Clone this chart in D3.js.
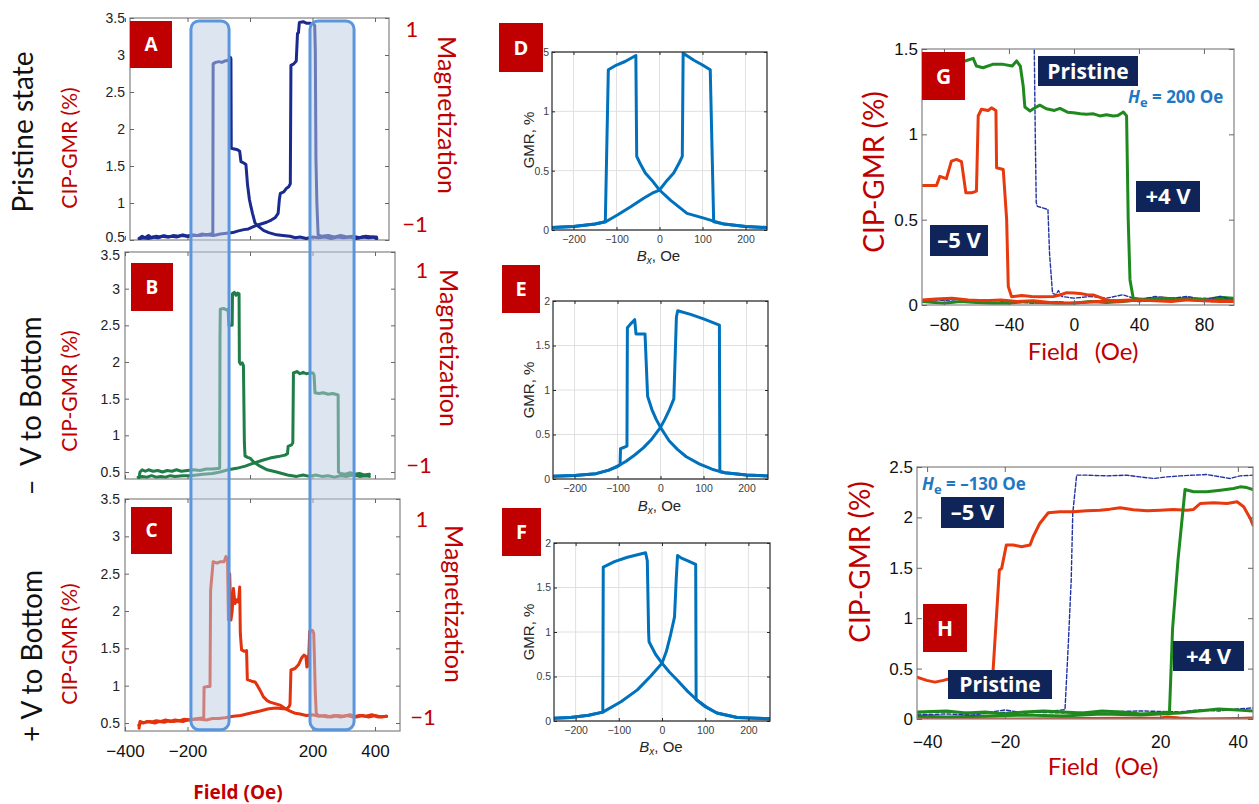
<!DOCTYPE html>
<html><head><meta charset="utf-8">
<script src="https://cdn.jsdelivr.net/npm/d3@7/dist/d3.min.js"></script>
<style>html,body{margin:0;padding:0;background:#fff;} svg{display:block;}</style>
</head><body>
<svg id="chart" width="1259" height="804" xmlns="http://www.w3.org/2000/svg"></svg>
<script>
// ================= DATA =================
// Panels A-C : field (Oe) vs CIP-GMR (%)
const abcYTicks = [0.5, 1, 1.5, 2, 2.5, 3, 3.5];
const abcXTicks = [-400, -200, 200, 400];
const abcXTickMarks = [-400, -200, 0, 200, 400];
const highlightWindows = [[-189, -67], [192, 333]];

const aSweep1 = [[-355,0.52],[-345,0.55],[-335,0.53],[-325,0.56],[-315,0.53],[-300,0.55],[-290,0.54],[-275,0.56],[-260,0.54],[-245,0.56],[-230,0.55],[-215,0.57],[-200,0.55],[-185,0.57],[-170,0.56],[-155,0.58],[-140,0.57],[-125,0.58],[-119,0.58],[-118,2.88],[-110,2.9],[-100,2.91],[-90,2.9],[-80,2.92],[-70,2.93],[-65,2.92],[-63,2.97],[-61,2.95],[-60,1.74],[-50,1.73],[-40,1.72],[-33,1.7],[-29,1.56],[-20,1.54],[-13,1.52],[-8,1.25],[-2,1.05],[3,0.95],[8,0.86],[16,0.73],[28,0.68],[43,0.63],[60,0.6],[85,0.57],[105,0.56],[128,0.55],[145,0.53],[160,0.54],[180,0.52],[200,0.54],[220,0.53],[240,0.54],[260,0.52],[280,0.54],[300,0.53],[320,0.54],[340,0.52],[360,0.54],[380,0.53],[395,0.54],[406,0.52]];
const aSweep2 = [[-352,0.52],[-340,0.53],[-325,0.52],[-310,0.54],[-295,0.53],[-280,0.55],[-265,0.54],[-250,0.55],[-235,0.54],[-220,0.56],[-200,0.55],[-180,0.56],[-160,0.56],[-140,0.57],[-117,0.56],[-95,0.58],[-75,0.59],[-55,0.6],[-40,0.62],[-20,0.64],[-5,0.65],[11,0.68],[30,0.71],[53,0.74],[68,0.77],[80,0.8],[90,0.86],[94,1.05],[97,1.13],[108,1.15],[117,1.2],[124,1.22],[129,1.26],[131,2.86],[140,2.88],[148,2.92],[152,3.29],[155,3.3],[158,3.44],[170,3.45],[180,3.43],[192,3.43],[203,3.42],[207,3.4],[209,3.05],[211,1.6],[214,1.0],[218,0.57],[230,0.55],[250,0.56],[270,0.54],[290,0.56],[310,0.54],[330,0.55],[350,0.53],[370,0.55],[390,0.54],[405,0.54]];

const bSweep1 = [[-355,0.42],[-352,0.5],[-345,0.53],[-335,0.51],[-325,0.53],[-310,0.51],[-295,0.52],[-280,0.5],[-265,0.52],[-250,0.51],[-235,0.53],[-220,0.51],[-200,0.52],[-180,0.53],[-160,0.52],[-140,0.54],[-120,0.54],[-97,0.55],[-96,2.35],[-95,2.72],[-85,2.73],[-75,2.71],[-70,2.72],[-68,2.5],[-57,2.5],[-56,2.93],[-50,2.95],[-45,2.91],[-40,2.94],[-35,2.93],[-34,2.0],[-30,1.97],[-25,1.99],[-21,1.95],[-18,0.9],[-16,0.72],[-8,0.7],[0,0.69],[11,0.64],[32,0.58],[55,0.53],[85,0.5],[120,0.46],[149,0.44],[170,0.46],[190,0.44],[210,0.46],[230,0.44],[250,0.45],[270,0.43],[290,0.45],[310,0.44],[330,0.46],[350,0.44],[370,0.45],[382,0.44]];
const bSweep2 = [[-358,0.43],[-345,0.44],[-330,0.43],[-315,0.45],[-300,0.43],[-285,0.44],[-270,0.43],[-255,0.45],[-240,0.44],[-215,0.45],[-192,0.45],[-170,0.46],[-150,0.47],[-120,0.48],[-96,0.5],[-70,0.53],[-43,0.55],[-15,0.58],[11,0.62],[40,0.66],[64,0.69],[90,0.71],[112,0.73],[120,0.75],[122,0.85],[133,0.87],[137,0.9],[139,1.85],[150,1.87],[160,1.84],[170,1.86],[180,1.84],[192,1.85],[202,1.85],[205,1.82],[208,1.58],[220,1.57],[235,1.58],[250,1.56],[265,1.57],[282,1.55],[283,0.5],[290,0.48],[305,0.47],[320,0.49],[335,0.47],[350,0.48],[365,0.46],[382,0.47]];

const cSweep1 = [[-355,0.43],[-352,0.52],[-340,0.5],[-330,0.52],[-315,0.51],[-300,0.53],[-285,0.52],[-270,0.54],[-255,0.52],[-240,0.54],[-225,0.53],[-210,0.55],[-195,0.54],[-180,0.55],[-165,0.56],[-148,0.57],[-147,0.98],[-135,0.99],[-128,0.99],[-126,2.28],[-118,2.66],[-105,2.64],[-95,2.66],[-83,2.66],[-77,2.73],[-72,2.7],[-69,1.88],[-65,2.5],[-61,1.88],[-57,2.0],[-53,2.3],[-48,2.1],[-42,2.15],[-37,2.12],[-33,2.32],[-31,1.7],[-27,1.48],[-18,1.46],[-11,1.47],[-8.5,1.08],[5,1.06],[16,1.05],[24,1.0],[32,0.94],[43,0.85],[55,0.8],[64,0.78],[80,0.76],[96,0.74],[110,0.7],[128,0.66],[145,0.63],[160,0.62],[180,0.6],[200,0.61],[220,0.59],[240,0.6],[260,0.58],[280,0.6],[300,0.59],[320,0.61],[340,0.58],[360,0.6],[380,0.58],[400,0.6],[420,0.58],[437,0.59]];
const cSweep2 = [[-356,0.47],[-350,0.5],[-335,0.51],[-320,0.52],[-305,0.5],[-290,0.52],[-275,0.51],[-260,0.53],[-245,0.52],[-230,0.53],[-215,0.52],[-200,0.54],[-180,0.55],[-160,0.55],[-140,0.54],[-120,0.56],[-100,0.56],[-80,0.57],[-53,0.59],[-30,0.6],[-10,0.62],[10,0.64],[32,0.66],[60,0.69],[85,0.7],[105,0.69],[117,0.69],[125,0.72],[128,0.75],[131,1.21],[144,1.23],[155,1.28],[165,1.37],[173,1.41],[179,1.39],[182,1.25],[186,1.27],[188,1.4],[191,1.73],[200,1.74],[204,1.7],[206,1.4],[209,0.9],[212,0.63],[219,0.6],[235,0.59],[250,0.58],[270,0.6],[290,0.58],[310,0.6],[330,0.58],[350,0.6],[370,0.59],[390,0.61],[410,0.58],[437,0.59]];

// Panels D-F : simulated GMR (%) vs Bx (Oe)
const defXTicks = [-200, -100, 0, 100, 200];
const dYTicks = [0, 0.5, 1, 1.5];
const efYTicks = [0, 0.5, 1, 1.5, 2];
const dSweepUp = [[-250,0.02],[-200,0.03],[-150,0.05],[-125,0.07],[-98,0.126],[-67,0.196],[-36,0.27],[-17,0.31],[0,0.337],[18,0.42],[33,0.48],[45,0.56],[49,0.59],[53,0.62],[55,1.49],[80,1.43],[100,1.39],[118,1.35],[126,0.07],[150,0.05],[200,0.03],[250,0.02]];
const dSweepDown = [[250,0.02],[200,0.03],[150,0.05],[126,0.075],[103,0.1],[64,0.14],[26,0.25],[0,0.337],[-18,0.42],[-33,0.48],[-45,0.56],[-49,0.59],[-53,0.62],[-55,1.47],[-80,1.42],[-100,1.39],[-119,1.35],[-126,0.07],[-150,0.05],[-200,0.03],[-250,0.02]];
const eSweepUp = [[-250,0.03],[-200,0.04],[-150,0.06],[-120,0.1],[-100,0.14],[-94,0.16],[-93,0.34],[-78,0.37],[-77,1.7],[-70,1.74],[-60,1.79],[-57,1.63],[-36,1.63],[-30,0.93],[-20,0.78],[-10,0.67],[0,0.58],[20,0.43],[40,0.33],[60,0.25],[90,0.17],[120,0.11],[137,0.085],[150,0.07],[200,0.045],[250,0.035]];
const eSweepDown = [[250,0.035],[200,0.045],[150,0.07],[138,0.085],[137,1.73],[100,1.8],[70,1.85],[40,1.89],[37,1.82],[31,0.9],[20,0.77],[10,0.67],[0,0.58],[-20,0.45],[-40,0.35],[-60,0.27],[-80,0.2],[-94,0.16],[-120,0.1],[-150,0.06],[-200,0.04],[-250,0.03]];
const fSweepUp = [[-250,0.03],[-212,0.04],[-170,0.065],[-137,0.1],[-136,1.73],[-110,1.79],[-80,1.84],[-38,1.89],[-34,1.8],[-31,1.0],[-30,0.89],[-15,0.75],[0,0.65],[17,0.55],[35,0.46],[60,0.33],[81,0.236],[105,0.15],[127,0.09],[174,0.04],[250,0.025]];
const fSweepDown = [[250,0.025],[174,0.04],[127,0.09],[100,0.16],[79,0.24],[78,1.76],[60,1.8],[45,1.83],[36,1.86],[33,1.6],[29,1.17],[19,0.95],[10,0.78],[0,0.65],[-27,0.5],[-57,0.35],[-95,0.217],[-137,0.1],[-170,0.065],[-212,0.04],[-250,0.03]];

// Panel G : He = 200 Oe
const gXTicks = [-80, -40, 0, 40, 80];
const gYTicks = [0, 0.5, 1, 1.5];
const gPlus4Upper = [[-93.5,1.43],[-67,1.43],[-62,1.445],[-60,1.4],[-56,1.39],[-50,1.41],[-43.5,1.41],[-38,1.4],[-35.3,1.43],[-33,1.4],[-31.2,1.28],[-30.2,1.16],[-27,1.137],[-25,1.15],[-21,1.171],[-17,1.15],[-12,1.14],[-8.6,1.152],[-4,1.13],[-0.4,1.127],[4,1.12],[7.8,1.118],[12,1.12],[16,1.108],[20,1.115],[24.2,1.108],[27,1.11],[30.4,1.131],[32.4,1.108],[33.4,0.5],[34.5,0.147],[36.5,0.039],[45,0.03],[55,0.04],[65,0.03],[75,0.035],[85,0.025],[98,0.03]];
const gPlus4Lower = [[-93.5,0.02],[-80,0.01],[-70,0.02],[-60,0.015],[-50,0.01],[-40,0.01],[-30,0.02],[-20,0.015],[-10,0.01],[0,0.01],[10,0.02],[20,0.015],[30,0.02],[40,0.03],[50,0.04],[60,0.03],[70,0.04],[80,0.03],[90,0.045],[98,0.04]];
const gMinus5Upper = [[-93.5,0.7],[-84.6,0.7],[-82.5,0.754],[-78.5,0.74],[-75.4,0.843],[-72.3,0.853],[-69.2,0.84],[-66.5,0.657],[-63,0.657],[-60,0.667],[-58.9,1.109],[-56.9,1.147],[-52.8,1.14],[-50.7,1.155],[-48,1.14],[-47.6,0.804],[-43.5,0.794],[-41.4,0.5],[-40.4,0.108],[-38.4,0.049],[-32.2,0.055],[-26,0.05],[-20.9,0.049],[-12.7,0.05],[-8,0.06],[-4.5,0.072],[0,0.07],[3.7,0.068],[8,0.06],[11.9,0.059],[16,0.045],[20,0.03],[26.3,0.02],[40,0.03],[50,0.025],[60,0.02],[70,0.03],[80,0.025],[90,0.02],[98,0.02]];
const gMinus5Lower = [[-93.5,0.03],[-85,0.035],[-75,0.04],[-65,0.03],[-55,0.025],[-45,0.03],[-35,0.02],[-25,0.025],[-15,0.015],[-5,0.01],[5,0.015],[15,0.02],[25,0.025],[35,0.03],[45,0.035],[55,0.04],[65,0.035],[75,0.03],[85,0.03],[98,0.02]];
const gPristineUpper = [[-25,1.6],[-24.4,1.5],[-23.8,1.0],[-23.2,0.6],[-22.5,0.578],[-19.5,0.57],[-16,0.56],[-15,0.3],[-13.2,0.07],[-11,0.06],[-9.5,0.085],[-7.5,0.05],[0,0.04],[10,0.05],[20,0.04],[30,0.06],[40,0.03],[50,0.05],[60,0.04],[70,0.05],[80,0.03],[90,0.05],[98,0.03]];
const gPristineLower = [[-93.5,0.02],[-85,0.03],[-70,0.02],[-55,0.03],[-40,0.02],[-25,0.01],[-10,0.02],[0,0.01],[20,0.03],[40,0.02],[60,0.03],[80,0.04],[98,0.03]];

// Panel H : He = -130 Oe
const hXTicks = [-40, -20, 20, 40];
const hYTicks = [0, 0.5, 1, 1.5, 2, 2.5];
const hMinus5Upper = [[-42.6,0.416],[-40.1,0.383],[-38,0.366],[-35.8,0.383],[-34.6,0.396],[-28,0.42],[-23.4,0.45],[-23,0.489],[-21.4,1.478],[-20.8,1.494],[-19.6,1.726],[-17.8,1.726],[-15.7,1.709],[-13.5,1.726],[-12.7,1.808],[-11,1.94],[-8.8,2.046],[-5.8,2.056],[-2.4,2.056],[1.1,2.066],[4.5,2.072],[7.1,2.082],[9.7,2.096],[13.1,2.075],[16.6,2.066],[20,2.072],[23.4,2.079],[26.9,2.072],[28.6,2.079],[30.3,2.138],[33.8,2.145],[37.2,2.138],[39.8,2.155],[41.5,2.105],[43.2,1.99],[43.9,1.923]];
const hMinus5Lower = [[-42.6,0.01],[-30,0.005],[-20,0.0],[0,0.005],[20,0.01],[22,0.02],[25,0.01],[30,0.0],[40,0.005],[43.9,0.01]];
const hPlus4Upper = [[-42.6,0.07],[-35,0.08],[-30,0.06],[-25,0.07],[-20,0.05],[-15,0.07],[-10,0.08],[-5,0.07],[0,0.06],[5,0.08],[10,0.07],[15,0.05],[20,0.06],[22.4,0.07],[23.2,0.9],[24.6,1.58],[26.4,2.277],[28.6,2.254],[32,2.254],[35.5,2.27],[38.9,2.287],[40.6,2.303],[42.3,2.296],[43.9,2.277]];
const hPlus4Lower = [[-42.6,0.03],[-35,0.02],[-25,0.03],[-15,0.04],[-5,0.03],[5,0.05],[15,0.04],[25,0.06],[30,0.08],[35,0.1],[40,0.09],[43.9,0.08]];
const hPristineUpper = [[-42.6,0.04],[-35,0.05],[-28,0.04],[-20,0.09],[-15,0.06],[-10,0.07],[-4.5,0.093],[-3.6,0.78],[-2.9,1.38],[-2.5,2.04],[-1.5,2.419],[1.1,2.419],[6.2,2.412],[11.4,2.419],[14.8,2.402],[18.3,2.386],[21.7,2.402],[25.1,2.412],[28.6,2.419],[32,2.425],[35.5,2.402],[38,2.386],[40.6,2.412],[43.9,2.419]];
const hPristineLower = [[-42.6,0.06],[-35,0.07],[-25,0.06],[-15,0.07],[-5,0.06],[5,0.07],[15,0.08],[25,0.07],[30,0.09],[35,0.08],[40,0.1],[43.9,0.11]];

// ================= DRAWING =================
const svg = d3.select('#chart');
const defs = svg.append('defs');
let clipN = 0;
function clip(x, y, w, h) {
  const id = 'clip' + (clipN++);
  defs.append('clipPath').attr('id', id).append('rect').attr('x', x).attr('y', y).attr('width', w).attr('height', h);
  return `url(#${id})`;
}
const FONT_AX = "'Liberation Sans', Arial, sans-serif";
const FONT_CAL = "Lato, 'Open Sans', sans-serif";
const FONT_BOLD = "'Open Sans', Lato, sans-serif";
const RED = '#C00000';

function styleAxis(g, size, color, tickColor) {
  g.select('.domain').remove();
  g.attr('font-size', size).attr('font-family', FONT_AX);
  g.selectAll('line').attr('stroke', tickColor);
  g.selectAll('text').attr('fill', color);
}
function drawLine(g, x, y, data, color, width, dash, cp) {
  g.append('path').datum(data)
    .attr('d', d3.line().x(d => x(d[0])).y(d => y(d[1])))
    .attr('fill', 'none').attr('stroke', color).attr('stroke-width', width)
    .attr('stroke-linejoin', 'round').attr('stroke-linecap', 'round')
    .attr('stroke-dasharray', dash || null).attr('clip-path', cp);
}
function labelBox(x0, y0, x1, y1, fill, txt, fs) {
  svg.append('rect').attr('x', x0).attr('y', y0).attr('width', x1 - x0).attr('height', y1 - y0).attr('fill', fill);
  svg.append('text').attr('x', (x0 + x1) / 2).attr('y', (y0 + y1) / 2).attr('dy', '0.36em')
    .attr('text-anchor', 'middle').attr('font-family', FONT_BOLD).attr('font-weight', 700)
    .attr('font-size', fs).attr('fill', '#fff').text(txt);
}
function rotText(x, y, angle, txt, size, color, family, weight) {
  return svg.append('text').attr('transform', `translate(${x},${y}) rotate(${angle})`)
    .attr('text-anchor', 'middle').attr('font-family', family).attr('font-size', size)
    .attr('font-weight', weight || 400).attr('fill', color).text(txt);
}

// ---------- Panels A, B, C ----------
const fieldX = d3.scaleLinear().domain([-400, 480]).range([125, 400]);
const abcLayout = [
  {x0: 130, x1: 389, yTop: 18, yBot: 240, y05: 240, y35: 18, series: [aSweep1, aSweep2], color: '#1B2A8E', labels: false, shift: {0.5: -3}},
  {x0: 125, x1: 395, yTop: 252, yBot: 479, y05: 472, y35: 252, series: [bSweep1, bSweep2], color: '#1F7D47', labels: false, shift: {3.5: 3}},
  {x0: 125, x1: 400, yTop: 499, yBot: 731, y05: 723, y35: 499, series: [cSweep1, cSweep2], color: '#E2330E', labels: true, shift: {}}
];
const abcY = [];
abcLayout.forEach(L => {
  const x = d3.scaleLinear().domain([fieldX.invert(L.x0), fieldX.invert(L.x1)]).range([L.x0, L.x1]);
  const y = d3.scaleLinear().domain([0.5, 3.5]).range([L.y05, L.y35]);
  abcY.push(y);
  const g = svg.append('g');
  g.append('rect').attr('x', L.x0).attr('y', L.yTop).attr('width', L.x1 - L.x0).attr('height', L.yBot - L.yTop)
    .attr('fill', 'none').attr('stroke', '#8c8c8c').attr('stroke-width', 1.3);
  const yl = g.append('g').attr('transform', `translate(${L.x0},0)`)
    .call(d3.axisLeft(y).tickValues(abcYTicks).tickSize(-4).tickPadding(5).tickFormat(d => String(d)));
  styleAxis(yl, 14, '#222', '#666');
  yl.selectAll('text').attr('transform', d => `translate(0,${L.shift[d] || 0})`);
  const yr = g.append('g').attr('transform', `translate(${L.x1},0)`)
    .call(d3.axisRight(y).tickValues(abcYTicks).tickSize(-4).tickFormat(''));
  styleAxis(yr, 14, '#222', '#666');
  const xt = g.append('g').attr('transform', `translate(0,${L.yTop})`)
    .call(d3.axisTop(x).tickValues(abcXTickMarks).tickSize(-4).tickFormat(''));
  styleAxis(xt, 14, '#222', '#666');
  const xb = g.append('g').attr('transform', `translate(0,${L.yBot})`)
    .call(d3.axisBottom(x).tickValues(L.labels ? abcXTicks : abcXTickMarks).tickSize(-4).tickPadding(14)
      .tickFormat(L.labels ? d3.format('') : ''));
  styleAxis(xb, 17, '#111', '#666');
  const cp = clip(L.x0, L.yTop, L.x1 - L.x0, L.yBot - L.yTop);
  L.series.forEach(s => drawLine(g, x, y, s, L.color, 3, null, cp));
});

// highlight windows spanning A-C
highlightWindows.forEach(w => {
  const yTop = abcY[0](3.46), yBot = abcY[2](0.41);
  svg.append('rect').attr('x', fieldX(w[0])).attr('y', yTop)
    .attr('width', fieldX(w[1]) - fieldX(w[0])).attr('height', yBot - yTop)
    .attr('rx', 8).attr('ry', 8)
    .attr('fill', '#BCCCE3').attr('fill-opacity', 0.5)
    .attr('stroke', '#5B96DC').attr('stroke-width', 3);
});

labelBox(130, 21, 172, 68, RED, 'A', 19);
labelBox(131, 263, 173, 311, RED, 'B', 19);
labelBox(131, 507, 172, 554, RED, 'C', 19);

// row & axis titles for A-C
rotText(33, 132, -90, 'Pristine state', 28, '#111', FONT_CAL);
rotText(41, 406, -90, '–\u00A0 V to Bottom', 28, '#111', FONT_CAL);
rotText(42, 656, -90, '+ V to Bottom', 28, '#111', FONT_CAL);
[[148], [391], [644]].forEach(c => rotText(77, c[0], -90, 'CIP-GMR (%)', 21, RED, FONT_CAL));
[[438, 115], [440, 348], [445, 604]].forEach(c => rotText(c[0], c[1], 90, 'Magnetization', 25, RED, FONT_CAL));
[[412, 37, '1'], [415, 232, '−1'], [422, 278, '1'], [419, 473, '−1'], [422, 527, '1'], [423, 725, '−1']].forEach(c => {
  svg.append('text').attr('x', c[0]).attr('y', c[1]).attr('text-anchor', 'middle')
    .attr('font-family', FONT_CAL).attr('font-size', 22).attr('fill', RED).text(c[2]);
});
svg.append('text').attr('x', 238).attr('y', 799).attr('text-anchor', 'middle')
  .attr('font-family', FONT_BOLD).attr('font-weight', 700).attr('font-size', 19).attr('fill', RED).text('Field (Oe)');

// ---------- Panels D, E, F ----------
const defLayout = [
  {x0: 552, x1: 767, yTop: 52, yBot: 230, ymax: 1.5, ticks: dYTicks, up: dSweepUp, down: dSweepDown, gy: 140, by: 261},
  {x0: 553, x1: 768, yTop: 301, yBot: 479, ymax: 2, ticks: efYTicks, up: eSweepUp, down: eSweepDown, gy: 390, by: 511},
  {x0: 554, x1: 770, yTop: 543, yBot: 721, ymax: 2, ticks: efYTicks, up: fSweepUp, down: fSweepDown, gy: 632, by: 752}
];
defLayout.forEach(L => {
  const x = d3.scaleLinear().domain([-250, 250]).range([L.x0, L.x1]);
  const y = d3.scaleLinear().domain([0, L.ymax]).range([L.yBot, L.yTop]);
  const g = svg.append('g');
  g.selectAll('.gx').data(defXTicks).join('line').attr('x1', d => x(d)).attr('x2', d => x(d))
    .attr('y1', L.yTop).attr('y2', L.yBot).attr('stroke', '#dcdcdc').attr('stroke-width', 0.9);
  g.selectAll('.gy').data(L.ticks).join('line').attr('y1', d => y(d)).attr('y2', d => y(d))
    .attr('x1', L.x0).attr('x2', L.x1).attr('stroke', '#dcdcdc').attr('stroke-width', 0.9);
  const cp = clip(L.x0, L.yTop, L.x1 - L.x0, L.yBot - L.yTop);
  drawLine(g, x, y, L.up, '#0072BD', 3, null, cp);
  drawLine(g, x, y, L.down, '#0072BD', 3, null, cp);
  g.append('rect').attr('x', L.x0).attr('y', L.yTop).attr('width', L.x1 - L.x0).attr('height', L.yBot - L.yTop)
    .attr('fill', 'none').attr('stroke', '#262626').attr('stroke-width', 1.2);
  const yl = g.append('g').attr('transform', `translate(${L.x0},0)`)
    .call(d3.axisLeft(y).tickValues(L.ticks).tickSize(-3).tickPadding(3).tickFormat(d => String(d)));
  styleAxis(yl, 10.5, '#404040', '#262626');
  const yr = g.append('g').attr('transform', `translate(${L.x1},0)`)
    .call(d3.axisRight(y).tickValues(L.ticks).tickSize(-3).tickFormat(''));
  styleAxis(yr, 10.5, '#404040', '#262626');
  const xb = g.append('g').attr('transform', `translate(0,${L.yBot})`)
    .call(d3.axisBottom(x).tickValues(defXTicks).tickSize(-3).tickPadding(6).tickFormat(d3.format('')));
  styleAxis(xb, 10.5, '#404040', '#262626');
  const xt = g.append('g').attr('transform', `translate(0,${L.yTop})`)
    .call(d3.axisTop(x).tickValues(defXTicks).tickSize(-3).tickFormat(''));
  styleAxis(xt, 10.5, '#404040', '#262626');
  rotText(534, L.gy, -90, 'GMR, %', 15, '#262626', FONT_AX);
  const t = svg.append('text').attr('x', (L.x0 + L.x1) / 2 - 1).attr('y', L.by).attr('text-anchor', 'middle')
    .attr('font-family', FONT_AX).attr('font-size', 15).attr('fill', '#262626');
  t.append('tspan').attr('font-style', 'italic').text('B');
  t.append('tspan').attr('font-style', 'italic').attr('font-size', 10).attr('dy', 3).text('x');
  t.append('tspan').attr('dy', -3).text(', Oe');
});
labelBox(499, 23, 543, 72, RED, 'D', 20);
labelBox(502, 265, 540, 313, RED, 'E', 20);
labelBox(502, 508, 541, 556, RED, 'F', 20);

// ---------- Panels G, H ----------
function ghPanel(L) {
  const x = d3.scaleLinear().domain(L.xd).range([L.x0, L.x1]);
  const y = d3.scaleLinear().domain(L.yd).range([L.yBot, L.yTop]);
  const g = svg.append('g');
  const cp = clip(L.x0, L.yTop, L.x1 - L.x0, L.yBot - L.yTop);
  L.lines.forEach(s => drawLine(g, x, y, s.d, s.c, s.w, s.dash, cp));
  g.append('rect').attr('x', L.x0).attr('y', L.yTop).attr('width', L.x1 - L.x0).attr('height', L.yBot - L.yTop)
    .attr('fill', 'none').attr('stroke', '#8c8c8c').attr('stroke-width', 1.3);
  const yl = g.append('g').attr('transform', `translate(${L.x0},0)`)
    .call(d3.axisLeft(y).tickValues(L.yt).tickSize(-5).tickPadding(4).tickFormat(d => String(d)));
  styleAxis(yl, 17, '#111', '#666');
  const yr = g.append('g').attr('transform', `translate(${L.x1},0)`)
    .call(d3.axisRight(y).tickValues(L.yt).tickSize(-5).tickFormat(''));
  styleAxis(yr, 17, '#111', '#666');
  const xb = g.append('g').attr('transform', `translate(0,${L.yBot})`)
    .call(d3.axisBottom(x).tickValues(L.xt).tickSize(-5).tickPadding(L.pad).tickFormat(d3.format('')));
  styleAxis(xb, 17.5, '#111', '#666');
  const xt = g.append('g').attr('transform', `translate(0,${L.yTop})`)
    .call(d3.axisTop(x).tickValues(L.xt).tickSize(-5).tickFormat(''));
  styleAxis(xt, 17, '#111', '#666');
  rotText(L.ly[0], L.ly[1], -90, 'CIP-GMR (%)', 28, RED, FONT_CAL);
  svg.append('text').attr('x', L.lx[0]).attr('y', L.lx[1]).attr('text-anchor', 'middle')
    .attr('font-family', FONT_CAL).attr('font-size', 24).attr('word-spacing', 10).attr('fill', RED).text('Field (Oe)');
}
const GRN = '#1E8A1E', ORG = '#E8380D', NAV = '#2233A0';
ghPanel({x0: 922, x1: 1234, yTop: 49, yBot: 305, xd: [-93.5, 98.5], yd: [0, 1.5], xt: gXTicks, yt: gYTicks, pad: 14,
  ly: [884, 172], lx: [1083, 360],
  lines: [
    {d: gPristineLower, c: NAV, w: 1.4, dash: '4,2'},
    {d: gPlus4Lower, c: GRN, w: 3},
    {d: gMinus5Lower, c: ORG, w: 3},
    {d: gPristineUpper, c: NAV, w: 1.4, dash: '4,2'},
    {d: gPlus4Upper, c: GRN, w: 3},
    {d: gMinus5Upper, c: ORG, w: 3}
  ]});
ghPanel({x0: 917, x1: 1253, yTop: 467, yBot: 719, xd: [-42.6, 43.9], yd: [0, 2.5], xt: hXTicks, yt: hYTicks, pad: 17,
  ly: [870, 562], lx: [1103, 775],
  lines: [
    {d: hMinus5Lower, c: ORG, w: 3},
    {d: hPristineLower, c: NAV, w: 1.4, dash: '4,2'},
    {d: hPlus4Lower, c: GRN, w: 3},
    {d: hPristineUpper, c: NAV, w: 1.4, dash: '4,2'},
    {d: hMinus5Upper, c: ORG, w: 3},
    {d: hPlus4Upper, c: GRN, w: 3}
  ]});

const NAVY = '#0F2559';
labelBox(922, 52, 965, 100, RED, 'G', 21);
labelBox(1038, 56, 1138, 86, NAVY, 'Pristine', 21);
labelBox(1136, 181, 1200, 212, NAVY, '+4 V', 22);
labelBox(930, 225, 988, 256, NAVY, '–5 V', 22);
labelBox(923, 604, 967, 652, RED, 'H', 21);
labelBox(941, 497, 1004, 528, NAVY, '–5 V', 22);
labelBox(948, 670, 1052, 699, NAVY, 'Pristine', 21);
labelBox(1173, 641, 1244, 671, NAVY, '+4 V', 22);

function heLabel(x, yb, val) {
  const t = svg.append('text').attr('x', x).attr('y', yb).attr('font-family', FONT_BOLD)
    .attr('font-weight', 700).attr('font-size', 17).attr('fill', '#1F78C1');
  t.append('tspan').attr('font-style', 'italic').text('H');
  t.append('tspan').attr('font-size', 13).attr('dy', 4).text('e');
  t.append('tspan').attr('dy', -4).text(' = ' + val + ' Oe');
}
heLabel(1128, 103, '200');
heLabel(922, 490, '–130');
</script>
</body></html>
